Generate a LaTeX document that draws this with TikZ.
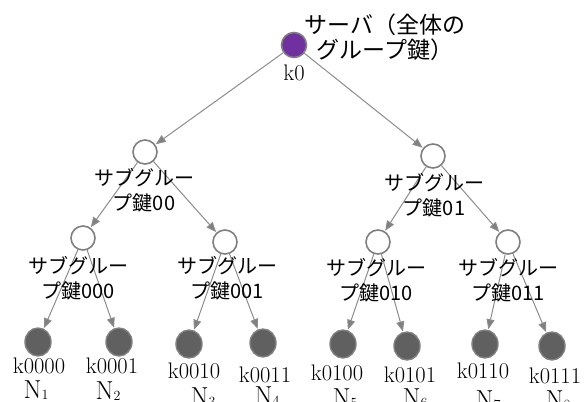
\documentclass[tikz,border=0pt]{standalone}
\usepackage{fontspec}
\newfontfamily\jp{Noto Sans CJK JP}
\usetikzlibrary{arrows.meta,shapes.geometric}
\definecolor{rootpurple}{RGB}{112,48,160}
\definecolor{leafgray}{RGB}{96,96,96}
\definecolor{rimgray}{RGB}{128,128,128}
\definecolor{edgegray}{RGB}{140,140,140}
\newcommand{\nsub}[1]{N\raisebox{-1pt}{\fontsize{14}{14}\selectfont #1}}
\begin{document}
\begin{tikzpicture}[x=1pt,y=-1pt,
  edge/.style={draw=edgegray, line width=1pt, -{Triangle[length=10pt,width=8pt,fill=rimgray]}, shorten >=0.5pt},
  rootnode/.style={circle, draw=rimgray, line width=1.6pt, fill=rootpurple, minimum size=25pt, inner sep=0},
  innernode/.style={circle, draw=rimgray, line width=1.6pt, fill=white, minimum size=24pt, inner sep=0},
  leafnode/.style={ellipse, draw=rimgray, line width=1.4pt, fill=leafgray, minimum width=26pt, minimum height=28pt, inner sep=0},
  jlab/.style={font=\jp\fontsize{20}{25}\selectfont, align=center, inner sep=0},
  toplab/.style={font=\jp\fontsize{23}{25}\selectfont, align=center, inner sep=0},
  klab/.style={font=\fontsize{22.5}{22.5}\selectfont, anchor=base, inner sep=0},
  nlab/.style={font=\fontsize{26}{26}\selectfont, anchor=base, inner sep=0},
]
\useasboundingbox (0,0) rectangle (585,401);

% nodes
\node[rootnode] (r) at (294,45) {};
\node[innernode] (a) at (145,152) {};
\node[innernode] (b) at (433,156) {};
\node[innernode] (aa) at (83,238) {};
\node[innernode] (ab) at (225,242) {};
\node[innernode] (ba) at (378,242) {};
\node[innernode] (bb) at (508,242) {};
\node[leafnode] (l1) at (38,342) {};
\node[leafnode] (l2) at (119,342) {};
\node[leafnode] (l3) at (189,344) {};
\node[leafnode] (l4) at (263,343) {};
\node[leafnode] (l5) at (343,344) {};
\node[leafnode] (l6) at (407,346) {};
\node[leafnode] (l7) at (485,344) {};
\node[leafnode] (l8) at (552,346) {};

% edges
\draw[edge] (r) -- (a);
\draw[edge] (r) -- (b);
\draw[edge] (a) -- (aa);
\draw[edge] (a) -- (ab);
\draw[edge] (b) -- (ba);
\draw[edge] (b) -- (bb);
\draw[edge] (aa) -- (l1);
\draw[edge] (aa) -- (l2);
\draw[edge] (ab) -- (l3);
\draw[edge] (ab) -- (l4);
\draw[edge] (ba) -- (l5);
\draw[edge] (ba) -- (l6);
\draw[edge] (bb) -- (l7);
\draw[edge] (bb) -- (l8);

% labels
\node[toplab] (rt) at (385,37) {サーバ（全体の\\グループ鍵）};
\node[klab] (rk) at (294,81) {k0};
\node[jlab] (at) at (144,190) {サブグルー\\プ鍵00};
\node[jlab] (bt) at (434,195) {サブグルー\\プ鍵01};
\node[jlab] (aat) at (78,278) {サブグルー\\プ鍵000};
\node[jlab] (abt) at (227,278) {サブグルー\\プ鍵001};
\node[jlab] (bat) at (376,280) {サブグルー\\プ鍵010};
\node[jlab] (bbt) at (508,280) {サブグルー\\プ鍵011};

\node[klab] (k1) at (39,373) {k0000};
\node[klab] (k2) at (112,373) {k0001};
\node[klab] (k3) at (194,378) {k0010};
\node[klab] (k4) at (265,382) {k0011};
\node[klab] (k5) at (337,380) {k0100};
\node[klab] (k6) at (410,382) {k0101};
\node[klab] (k7) at (483,378) {k0110};
\node[klab] (k8) at (555,383) {k0111};

\node[nlab] (n1) at (36,398) {\nsub{1}};
\node[nlab] (n2) at (108,399) {\nsub{2}};
\node[nlab] (n3) at (203,405) {\nsub{3}};
\node[nlab] (n4) at (267,404) {\nsub{4}};
\node[nlab] (n5) at (345,406) {\nsub{5}};
\node[nlab] (n6) at (415,406) {\nsub{6}};
\node[nlab] (n7) at (488,408) {\nsub{7}};
\node[nlab] (n8) at (558,408) {\nsub{8}};
\end{tikzpicture}
\end{document}
